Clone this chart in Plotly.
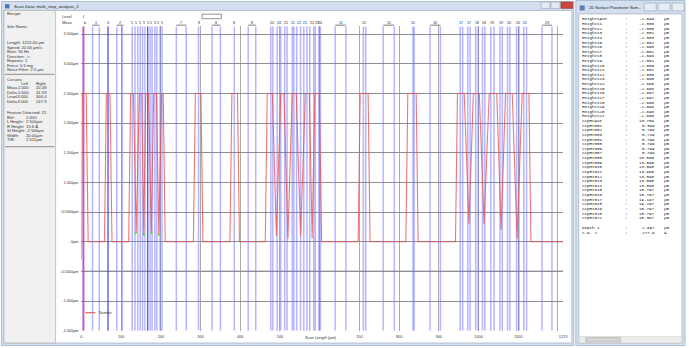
import plotly.graph_objects as go

W, H = 689, 348
def X(px): return px / W
def Y(py): return 1 - py / H

# ---------------- data ----------------
profile_x = [0, 2, 12, 17, 58, 63, 72, 77,
             119, 124, 131, 138, 146, 152, 157, 162, 169, 176, 182, 189, 195, 202, 206, 211,
             282, 287, 301, 306,
             374, 379, 393, 398,
             463, 468, 481, 491, 502, 510, 520, 531, 541, 552, 564, 574, 581, 588, 599, 605,
             697, 702, 722, 727,
             817, 822, 843, 848,
             942, 947, 964, 976, 987, 1002, 1014, 1027, 1046, 1057, 1068, 1085, 1097, 1110, 1127, 1132,
             1213]
profile_y = [-0.3, 2.5, 2.5, 0, 0, 2.5, 2.5, 0,
             0, 2.5, 2.5, 0.15, 2.5, 2.5, 0.12, 2.5, 2.5, 0.15, 2.5, 2.5, 0.12, 2.5, 2.5, 0,
             0, 2.5, 2.5, 0,
             0, 2.5, 2.5, 0,
             0, 2.5, 2.5, 0.1, 2.5, 2.5, 0.05, 2.5, 2.5, 0.1, 2.5, 2.5, 0.05, 2.5, 2.5, 0,
             0, 2.5, 2.5, 0,
             0, 2.5, 2.5, 0,
             0, 2.5, 2.5, 0.3, 2.5, 2.5, 0.3, 2.5, 2.5, 0.2, 2.5, 2.5, 0.05, 2.5, 2.5, 0,
             0]
green_x = [133, 139, None, 154, 160, None, 174, 180, None, 193, 199]
green_y = [0.15, 0.15, None, 0.12, 0.12, None, 0.15, 0.15, None, 0.12, 0.12]

cursor_light = [28, 45, 89, 103, 128, 135, 142, 148, 154, 160, 173, 178, 185, 190, 198, 203,
                239, 264, 295, 329, 350, 385, 420, 439,
                477, 482, 493, 502, 512, 518, 531, 535, 542, 552, 560, 568, 575, 585, 589, 598, 602,
                639, 666, 710, 716, 760, 788, 835, 838, 878, 904,
                954, 960, 973, 979, 993, 999, 1010, 1016, 1031, 1039, 1054, 1060, 1073, 1079,
                1096, 1102, 1114, 1121, 1160, 1185]
cursor_dark = [67, 167]
cursor_ref = [5]

x_ticks = [0, 100, 200, 300, 400, 500, 600, 700, 800, 900, 1000, 1100, 1200, 1213]
x_ticktext = ["0", "100", "200", "300", "400", "500", "", "700", "800", "900", "1000", "1100", "", "1213"]
y_ticks = [3.5, 3.0, 2.5, 2.0, 1.5, 1.0, 0.5, 0, -0.5, -1.0, -1.5]
y_ticktext = ["3.500µm", "3.000µm", "2.500µm", "2.000µm", "1.500µm", "1.000µm", "0.5000µm",
              "0µm", "-0.5000µm", "-1.000µm", "-1.500µm"]

meas_single_x = [8, 67, 295, 385, 712, 836,
                 128, 138, 148, 157, 167, 176, 185, 194, 203,
                 479, 497, 515, 533, 547, 564, 580, 593, 602,
                 957, 976, 996, 1013, 1035, 1057, 1076, 1099, 1117]
meas_single_text = ["b", "3", "8", "8", "15", "15",
                    "5", "5", "5", "5", "5", "5", "5", "5", "5",
                    "24", "24", "21", "21", "21", "21", "21", "23", "24",
                    "17", "17", "18", "18", "19", "19", "20", "20", "21"]
meas_pair_left = [28, 89, 239, 329, 420, 639, 760, 878, 1160]
meas_pair_right = [45, 106, 264, 350, 439, 666, 788, 904, 1185]
meas_pair_text = ["1", "2", "7", "8", "8", "11", "15", "16", "23"]

left_lines = [("Recipe:", 14.0), ("Site Name:", 26.5),
              ("Length: 1213.00 µm", 43.0), ("Speed: 20.00 µm/s", 47.5), ("Rate: 50 Hz", 52.0),
              ("Direction: ->", 56.5), ("Repeats: 1", 61.0), ("Force: 0.5 mg", 65.5),
              ("Noise Filter: 2.5 µm", 70.0),
              ("Cursors:", 79.5),
              ("Feature Detected: 21", 113.5)]
cursor_rows = [("", "Left", "Right", 84.0), ("Meas", "2.000", "20.48", 88.5),
               ("Delta", "0.500", "41.59", 93.0), ("Level", "-3.000", "300.0", 97.5),
               ("Delta", "-3.000", "247.9", 102.0)]
feat_rows = [("Ref:", "2.000", 118.0), ("L Height:", "2.500µm", 122.5), ("R Height:", "13.6 Å", 127.0),
             ("St Height:", "-2.500µm", 131.5), ("Width:", "20.00µm", 136.0), ("TIR:", "2.511µm", 140.5)]

param_names = ["HeightsAve"] + ["Heights%d" % i for i in range(1, 22)] + \
              ["StpHtAve"] + ["StpHt%03d" % i for i in range(1, 22)]
param_values = ["-2.699", "-2.506", "-2.505", "-2.501", "-2.503", "-2.502", "-2.698", "-2.502",
                "-2.696", "-2.501", "-2.500", "-2.501", "-2.500", "-2.698", "-2.698", "-2.696",
                "-2.697", "-2.697", "-2.696", "-2.696", "-2.696", "-2.696",
                "13.769", "8.399", "8.799", "8.749", "8.799", "8.799", "8.799", "8.799",
                "13.598", "13.598", "13.598", "13.998", "13.598", "13.598", "13.598",
                "18.797", "18.797", "19.197", "19.197", "18.797", "18.797", "18.397"]
extra_names = ["Depth 1", "S.D. 1"]
extra_values = ["2.697", "277.9"]
extra_units = ["µm", "Å"]

# ---------------- figure ----------------
fig = go.Figure()
Y_TOP = 3.5 + 0.5 * (34.3 - 26.5) / 29.84

def vlines(xs):
    xx, yy = [], []
    for v in xs:
        xx += [v, v, None]
        yy += [-1.5, Y_TOP, None]
    return xx, yy

bx, by = vlines(cursor_light)
fig.add_trace(go.Scatter(x=bx, y=by, mode="lines", line=dict(color="rgba(110,110,255,0.5)", width=1.5),
                         hoverinfo="skip", showlegend=False))
bx, by = vlines(cursor_dark)
fig.add_trace(go.Scatter(x=bx, y=by, mode="lines", line=dict(color="rgba(60,60,240,0.9)", width=1.3),
                         hoverinfo="skip", showlegend=False))
bx, by = vlines(cursor_ref)
fig.add_trace(go.Scatter(x=bx, y=by, mode="lines", line=dict(color="rgba(190,60,170,0.85)", width=2),
                         hoverinfo="skip", showlegend=False))
fig.add_trace(go.Scatter(x=green_x, y=green_y, mode="lines", line=dict(color="#7be07b", width=2.5),
                         hoverinfo="skip", showlegend=False))
fig.add_trace(go.Scatter(x=profile_x, y=profile_y, mode="lines", line=dict(color="rgba(235,80,80,0.78)", width=1.1),
                         name="Number", showlegend=False))

shapes = []
ann = []

def rect(x0, y0, x1, y1, fill, line=None, lw=0.8):
    shapes.append(dict(type="rect", xref="paper", yref="paper", x0=X(x0), x1=X(x1), y0=Y(y1), y1=Y(y0),
                       fillcolor=fill, line=dict(color=line or fill, width=lw if line else 0), layer="below"))

def hline(x0, x1, y, color, w=1, layer="below"):
    shapes.append(dict(type="line", xref="paper", yref="paper", x0=X(x0), x1=X(x1), y0=Y(y), y1=Y(y),
                       line=dict(color=color, width=w), layer=layer))

def text(x, y, s, size=4, anchor="left", color="#333", family="Liberation Sans"):
    ann.append(dict(xref="paper", yref="paper", x=X(x), y=Y(y), text=s, showarrow=False,
                    xanchor=anchor, yanchor="middle", font=dict(size=size, color=color, family=family)))

# main window
rect(0.5, 1.5, 577, 347.5, "#d3dfee", "#9fb3cc")
rect(3, 10.5, 575, 345, "#ffffff", "#aab8c8")
rect(3, 10.5, 55, 345, "#f0f0f0", "#b8b8b8")
text(11, 6.2, "Scan Data: multi_step_analysis_2", 4.3, color="#222")
rect(4, 4.2, 8.5, 8.5, "#4a7ab5")
rect(544, 2, 553, 8.5, "#e3eaf3", "#8898b0", 0.5)
rect(554, 2, 563, 8.5, "#e3eaf3", "#8898b0", 0.5)
rect(564, 2, 576, 8.5, "#c9473d", "#8a2e28", 0.5)
# left panel texts
FS = 4.2
for s, yy in left_lines:
    text(4.5, yy, s, FS)
for a, b, c, yy in cursor_rows:
    text(4.5, yy, a, FS)
    text(30, yy, b, FS, "right")
    text(48, yy, c, FS, "right")
for a, b, yy in feat_rows:
    text(4.5, yy, a, FS)
    text(23, yy, b, FS)
hline(4, 54, 74.8, "#a0a0a0", 1.3)
hline(4, 54, 147.5, "#a0a0a0", 1.3)
# level / meas header
text(59, 16.5, "Level", 4.0)
text(59, 23.0, "Meas", 4.0)
text(81, 16.5, "I", 4.0, color="#000")
shapes.append(dict(type="rect", xref="paper", yref="paper", x0=X(202.5), x1=X(222), y0=Y(18.8), y1=Y(14.2),
                   line=dict(color="#666", width=0.7), fillcolor="rgba(0,0,0,0)"))
for xv, s in zip(meas_single_x, meas_single_text):
    ann.append(dict(xref="x", yref="paper", x=xv, y=Y(23.0), text=s, showarrow=False, xanchor="center",
                    yanchor="middle", font=dict(size=3.6, color="#222", family="Liberation Sans")))
for a, b, s in zip(meas_pair_left, meas_pair_right, meas_pair_text):
    shapes.append(dict(type="line", xref="x", yref="paper", x0=a, x1=b, y0=Y(25.3), y1=Y(25.3),
                       line=dict(color="#444", width=0.7)))
    ann.append(dict(xref="x", yref="paper", x=(a + b) / 2, y=Y(22.8), text=s, showarrow=False,
                    xanchor="center", yanchor="middle", font=dict(size=3.6, color="#222", family="Liberation Sans")))
# darker -0.5 gridline
shapes.append(dict(type="line", xref="x", yref="y", x0=0, x1=1213, y0=-0.5, y1=-0.5,
                   line=dict(color="#606060", width=1.3), layer="below"))
# legend
hline(85, 95, 314.5, "#e85a5a", 1.2, "above")
text(96.5, 314.5, "Number", 3.6)
# x title
text(322, 339.5, "Scan Length (µm)", 3.9, "center")

# right window
rect(579, 0.5, 689, 347.5, "#d3dfee", "#9fb3cc")
rect(582, 14, 686, 345, "#ffffff", "#aab8c8")
rect(583, 5.5, 588, 10.5, "#5b7fb0")
text(590.5, 8, "2D Surface Parameter Sum...", 4.0, color="#222")
rect(648, 3, 660, 11, "#e6edf5", "#8898b0", 0.5)
rect(662, 3, 674, 11, "#e6edf5", "#8898b0", 0.5)
rect(676, 3, 688, 11, "#e6edf5", "#8898b0", 0.5)
rect(582, 338.5, 686, 345, "#ececec", "#c8c8c8", 0.5)
rect(589, 339.5, 624, 344, "#d4d4d4", "#a8a8a8", 0.5)
mono = "Liberation Mono"
MS = 4.2
for i, (n, v) in enumerate(zip(param_names, param_values)):
    yy = 19.5 + i * 4.65
    text(583.5, yy, n, MS, family=mono, color="#111")
    text(627, yy, ":", MS, family=mono, color="#111")
    text(661, yy, v, MS, "right", family=mono, color="#111")
    text(665.5, yy, "µm", MS, family=mono, color="#111")
for i, (n, v, u) in enumerate(zip(extra_names, extra_values, extra_units)):
    yy = 229.5 + i * 4.65
    text(583.5, yy, n, MS, family=mono, color="#111")
    text(627, yy, ":", MS, family=mono, color="#111")
    text(661, yy, v, MS, "right", family=mono, color="#111")
    text(665.5, yy, u, MS, family=mono, color="#111")

fig.update_layout(
    width=W, height=H, margin=dict(l=0, r=0, t=0, b=0),
    paper_bgcolor="#ffffff", plot_bgcolor="#ffffff",
    shapes=shapes, annotations=ann, showlegend=False,
    xaxis=dict(domain=[X(81), X(566.2)], range=[0, 1213], tickvals=x_ticks, ticktext=x_ticktext,
               showgrid=True, gridcolor="#ababab", gridwidth=1.3, zeroline=False, showline=False,
               ticks="", tickfont=dict(size=3.8, color="#333", family="Liberation Sans"), ticklabelstandoff=2),
    yaxis=dict(domain=[Y(332.7), Y(26.5)], range=[-1.5, Y_TOP],
               tickvals=y_ticks, ticktext=y_ticktext,
               showgrid=True, gridcolor="#8f8f8f", gridwidth=1.4, zeroline=False, showline=False,
               ticks="", tickfont=dict(size=3.8, color="#333", family="Liberation Sans"), ticklabelstandoff=2),
)
fig.write_html("out.html", config={"displayModeBar": False},
               post_script="document.body.style.margin='0';document.body.style.overflow='hidden';")
